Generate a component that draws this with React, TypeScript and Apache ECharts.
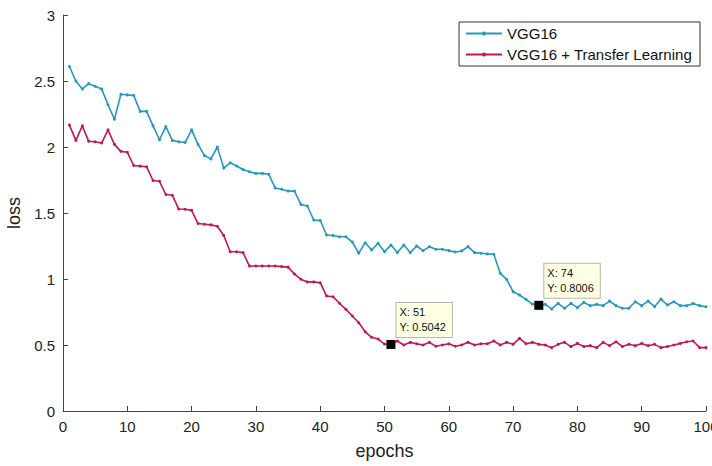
import React, { useEffect, useRef } from "react";
import * as echarts from "echarts";

const epochs: number[] = Array.from({ length: 100 }, (_, i) => i + 1);

const vgg16: number[] = [
  2.61, 2.5, 2.44, 2.48, 2.46, 2.44, 2.32, 2.21, 2.4, 2.395,
  2.39, 2.27, 2.27, 2.16, 2.055, 2.155, 2.05, 2.04, 2.035, 2.13,
  2.02, 1.935, 1.91, 2.0, 1.84, 1.88, 1.856, 1.83, 1.813, 1.8,
  1.8, 1.793, 1.69, 1.68, 1.666, 1.666, 1.565, 1.553, 1.447, 1.443,
  1.333, 1.33, 1.32, 1.32, 1.28, 1.195, 1.275, 1.22, 1.27, 1.207,
  1.257, 1.2, 1.257, 1.2, 1.25, 1.215, 1.245, 1.225, 1.225, 1.215,
  1.205, 1.212, 1.245, 1.2, 1.195, 1.19, 1.187, 1.043, 0.997, 0.904,
  0.879, 0.846, 0.81, 0.8006, 0.808, 0.773, 0.815, 0.778, 0.815, 0.783,
  0.823, 0.798, 0.808, 0.798, 0.833, 0.798, 0.778, 0.778, 0.828, 0.798,
  0.833, 0.79, 0.848, 0.803, 0.828, 0.798, 0.798, 0.815, 0.798, 0.79,
];

const vgg16Transfer: number[] = [
  2.166, 2.05, 2.16, 2.043, 2.04, 2.03, 2.13, 2.02, 1.967, 1.96,
  1.86, 1.855, 1.85, 1.746, 1.74, 1.64, 1.635, 1.53, 1.528, 1.52,
  1.42, 1.415, 1.41, 1.4, 1.33, 1.207, 1.207, 1.2, 1.098, 1.098,
  1.098, 1.098, 1.098, 1.094, 1.09, 1.038, 0.998, 0.978, 0.978, 0.972,
  0.871, 0.866, 0.816, 0.77, 0.72, 0.669, 0.6, 0.558, 0.545, 0.507,
  0.5042, 0.53, 0.5, 0.52, 0.51, 0.5, 0.52, 0.49, 0.5, 0.51,
  0.49, 0.5, 0.52, 0.5, 0.51, 0.51, 0.53, 0.5, 0.52, 0.505,
  0.55, 0.51, 0.52, 0.505, 0.5, 0.48, 0.505, 0.52, 0.488, 0.512,
  0.488, 0.495, 0.48, 0.52, 0.495, 0.525, 0.488, 0.505, 0.495, 0.512,
  0.495, 0.505, 0.48, 0.488, 0.5, 0.512, 0.525, 0.53, 0.48, 0.48,
];

const seriesNames: string[] = ["VGG16", "VGG16 + Transfer Learning"];
const tipEpochs: number[] = [74, 51];

const FONT = "Liberation Sans, Arial, sans-serif";
const BLUE = "#2399be";
const RED = "#c4155a";

export default function App() {
  const ref = useRef<HTMLDivElement>(null);
  useEffect(() => {
    if (!ref.current) return;
    const chart = echarts.init(ref.current, undefined, { renderer: "svg" });
    const build = (vals: number[]) => epochs.map((e, i) => [e, vals[i]]);
    const tip = (vals: number[], ep: number) => {
      const v = vals[ep - 1];
      return {
        coord: [ep, v],
        value: v,
        symbol: "rect",
        symbolSize: 9,
        itemStyle: { color: "#000" },
        label: {
          show: true,
          position: [10, -37],
          formatter: `X: ${ep}\nY: ${v.toFixed(4)}`,
          color: "#111",
          fontFamily: FONT,
          fontSize: 11,
          lineHeight: 15,
          align: "left",
          verticalAlign: "top",
          backgroundColor: "#ffffe3",
          borderColor: "#b8b8a8",
          borderWidth: 1,
          padding: [2, 6, 2, 3],
        },
      };
    };
    const axisCommon = {
      axisLine: { show: true, lineStyle: { color: "#444", width: 1 } },
      axisTick: { show: true, inside: true, length: 5, lineStyle: { color: "#444" } },
      splitLine: { show: false },
      axisLabel: { color: "#222", fontSize: 15, fontFamily: FONT },
      nameTextStyle: { color: "#222", fontSize: 18, fontFamily: FONT },
    };
    chart.setOption({
      animation: false,
      backgroundColor: "#fff",
      grid: { left: 63, right: 6, top: 15, bottom: 55, outerBoundsMode: "none", containLabel: false },
      legend: {
        orient: "vertical",
        right: 12,
        top: 22,
        data: seriesNames,
        backgroundColor: "#fff",
        borderColor: "#333",
        borderWidth: 1,
        padding: [4, 8, 4, 6],
        itemGap: 6,
        itemWidth: 36,
        itemHeight: 5,
        textStyle: { color: "#111", fontSize: 15, fontFamily: FONT },
      },
      xAxis: {
        type: "value",
        min: 0,
        max: 100,
        interval: 10,
        name: "epochs",
        nameLocation: "middle",
        nameGap: 31,
        ...axisCommon,
        axisLabel: { ...axisCommon.axisLabel, margin: 8 },
      },
      yAxis: {
        type: "value",
        min: 0,
        max: 3,
        interval: 0.5,
        name: "loss",
        nameLocation: "middle",
        nameGap: 37,
        ...axisCommon,
        axisLabel: { ...axisCommon.axisLabel, margin: 8 },
      },
      series: [
        {
          name: seriesNames[0],
          type: "line",
          data: build(vgg16),
          symbol: "circle",
          symbolSize: 3,
          showSymbol: true,
          color: BLUE,
          lineStyle: { width: 1.6, color: BLUE },
          itemStyle: { color: BLUE },
          markPoint: { data: [tip(vgg16, tipEpochs[0])] },
        },
        {
          name: seriesNames[1],
          type: "line",
          data: build(vgg16Transfer),
          symbol: "circle",
          symbolSize: 3,
          showSymbol: true,
          color: RED,
          lineStyle: { width: 1.6, color: RED },
          itemStyle: { color: RED },
          markPoint: { data: [tip(vgg16Transfer, tipEpochs[1])] },
        },
      ],
    });
    return () => chart.dispose();
  }, []);
  return (
    <div
      ref={ref}
      style={{ position: "fixed", left: 0, top: 0, width: 712, height: 466 }}
    />
  );
}
